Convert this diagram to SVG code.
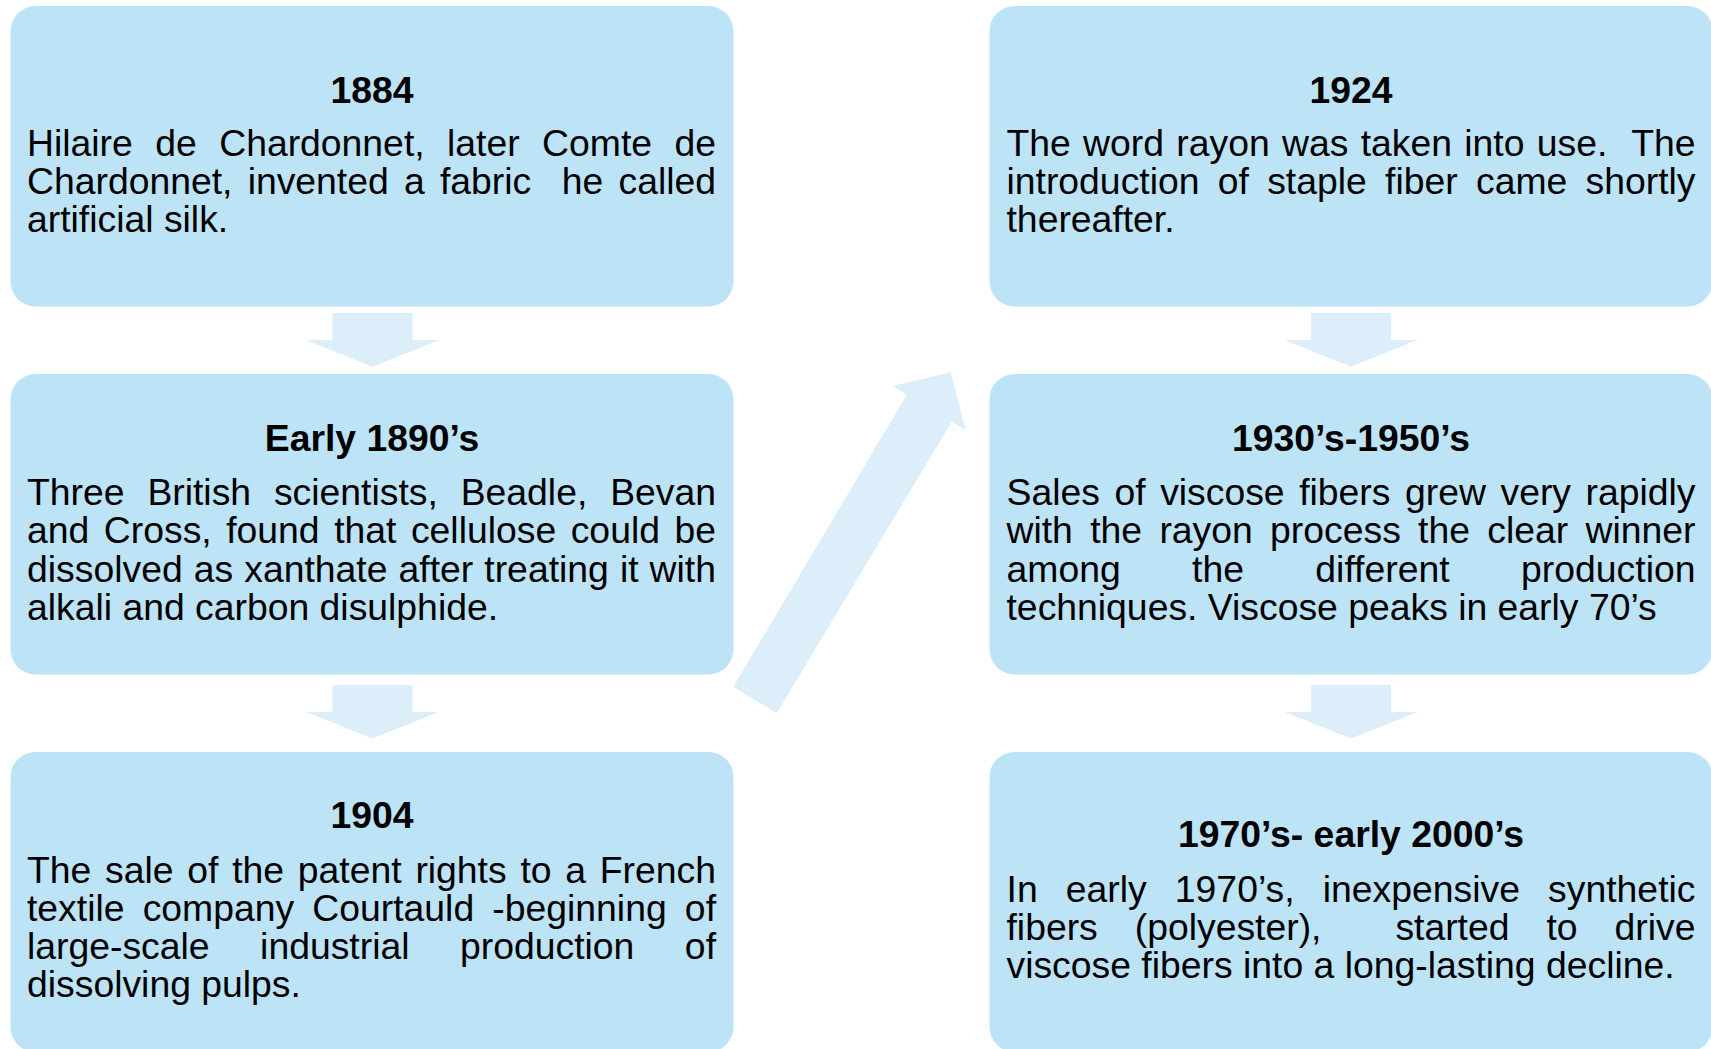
<svg xmlns="http://www.w3.org/2000/svg" width="1711" height="1049" viewBox="0 0 1711 1049">
<style>
.box{fill:#BDE3F7}
.arr{fill:#DBEEFA}
.t{font-family:"Liberation Sans",Arial,Helvetica,sans-serif;font-weight:bold;font-size:37.33px;fill:#000;text-anchor:middle}
.b{font-family:"Liberation Sans",Arial,Helvetica,sans-serif;font-size:37.33px;fill:#000}
</style>
<rect width="1711" height="1049" fill="#fff"/>
<g id="connectors">
<polygon class="arr" points="332.5,313 412.5,313 412.5,340 439,340 372.5,366.7 306,340 332.5,340"/>
<polygon class="arr" points="332.5,685 412.5,685 412.5,712 439,712 372.5,738.5 306,712 332.5,712"/>
<polygon class="arr" points="1311,313 1391,313 1391,340 1417.5,340 1351,366.7 1284.5,340 1311,340"/>
<polygon class="arr" points="1311,685 1391,685 1391,712 1417.5,712 1351,738.5 1284.5,712 1311,712"/>
<polygon class="arr" points="733.3,686.7 906.7,395 892.7,386 950.7,372.3 965.7,430 951.7,421.7 776.7,713.3"/>
</g>
<g id="n1884">
<rect class="box" x="10.5" y="6" width="723" height="300.5" rx="25"/>
<text class="t" x="372" y="103">1884</text>
<text class="b" x="27" y="156" word-spacing="12.06" textLength="689" lengthAdjust="spacing">Hilaire de Chardonnet, later Comte de</text>
<text class="b" x="27" y="194" xml:space="preserve" word-spacing="4.87" textLength="689" lengthAdjust="spacing">Chardonnet, invented a fabric  he called</text>
<text class="b" x="27" y="232">artificial silk.</text>
</g>
<g id="n1890s">
<rect class="box" x="10.5" y="374" width="723" height="300.5" rx="25"/>
<text class="t" x="372" y="451">Early 1890’s</text>
<text class="b" x="27" y="505" word-spacing="12.5" textLength="689" lengthAdjust="spacing">Three British scientists, Beadle, Bevan</text>
<text class="b" x="27" y="543" word-spacing="4.17" textLength="689" lengthAdjust="spacing">and Cross, found that cellulose could be</text>
<text class="b" x="27" y="582" word-spacing="0.61" textLength="689" lengthAdjust="spacing">dissolved as xanthate after treating it with</text>
<text class="b" x="27" y="620">alkali and carbon disulphide.</text>
</g>
<g id="n1904">
<rect class="box" x="10.5" y="752" width="723" height="300" rx="25"/>
<text class="t" x="372" y="828">1904</text>
<text class="b" x="27" y="883" word-spacing="3.39" textLength="689" lengthAdjust="spacing">The sale of the patent rights to a French</text>
<text class="b" x="27" y="921" word-spacing="7.83" textLength="689" lengthAdjust="spacing">textile company Courtauld -beginning of</text>
<text class="b" x="27" y="959" word-spacing="40.17" textLength="689" lengthAdjust="spacing">large-scale industrial production of</text>
<text class="b" x="27" y="997">dissolving pulps.</text>
</g>
<g id="n1924">
<rect class="box" x="989.5" y="6" width="723" height="300.5" rx="25"/>
<text class="t" x="1351" y="103">1924</text>
<text class="b" x="1006.5" y="156" xml:space="preserve" word-spacing="1.84" textLength="689" lengthAdjust="spacing">The word rayon was taken into use.  The</text>
<text class="b" x="1006.5" y="194" word-spacing="7.92" textLength="689" lengthAdjust="spacing">introduction of staple fiber came shortly</text>
<text class="b" x="1006.5" y="232">thereafter.</text>
</g>
<g id="n1930s">
<rect class="box" x="989.5" y="374" width="723" height="300.5" rx="25"/>
<text class="t" x="1351" y="451">1930’s-1950’s</text>
<text class="b" x="1006.5" y="505" word-spacing="4.2" textLength="689" lengthAdjust="spacing">Sales of viscose fibers grew very rapidly</text>
<text class="b" x="1006.5" y="543" word-spacing="6.95" textLength="689" lengthAdjust="spacing">with the rayon process the clear winner</text>
<text class="b" x="1006.5" y="582" word-spacing="60.9" textLength="689" lengthAdjust="spacing">among the different production</text>
<text class="b" x="1006.5" y="620">techniques. Viscose peaks in early 70’s</text>
</g>
<g id="n1970s">
<rect class="box" x="989.5" y="752" width="723" height="300" rx="25"/>
<text class="t" x="1351" y="847">1970’s- early 2000’s</text>
<text class="b" x="1006.5" y="902" word-spacing="17.7" textLength="689" lengthAdjust="spacing">In early 1970’s, inexpensive synthetic</text>
<text class="b" x="1006.5" y="940" xml:space="preserve" word-spacing="26.6" textLength="689" lengthAdjust="spacing">fibers (polyester),  started to drive</text>
<text class="b" x="1006.5" y="978">viscose fibers into a long-lasting decline.</text>
</g>
</svg>
